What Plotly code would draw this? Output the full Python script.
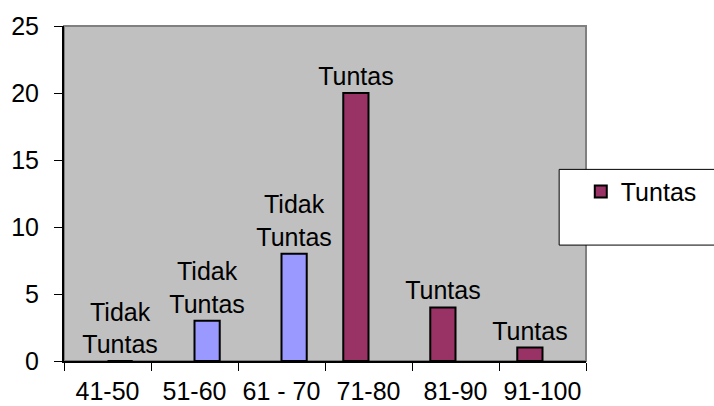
import plotly.graph_objects as go

categories = ["41-50", "51-60", "61 - 70", "71-80", "81-90", "91-100"]
tuntas = [None, None, None, 20, 4, 1]
tidak_tuntas = [0, 3, 8, None, None, None]
tuntas_labels = ["", "", "", "Tuntas", "Tuntas", "Tuntas"]
tidak_labels = ["Tidak<br>Tuntas", "Tidak<br>Tuntas", "Tidak<br>Tuntas", "", "", ""]
y_ticks = [0, 5, 10, 15, 20, 25]

FONT = "Liberation Sans, Arial, sans-serif"
FS = 25

fig = go.Figure()
fig.add_trace(go.Bar(
    name="Tuntas", x=categories, y=tuntas, text=tuntas_labels,
    textposition="outside", cliponaxis=False, constraintext="none",
    textfont=dict(family=FONT, size=FS, color="black"),
    marker=dict(color="#993366", line=dict(color="black", width=2)),
    showlegend=True,
))
fig.add_trace(go.Bar(
    name="Tidak Tuntas", x=categories, y=tidak_tuntas, text=tidak_labels,
    textposition="outside", cliponaxis=False, constraintext="none",
    textfont=dict(family=FONT, size=FS, color="black"),
    marker=dict(color="#9999FF", line=dict(color="black", width=2)),
    showlegend=False,
))

fig.update_layout(
    width=714, height=406,
    margin=dict(l=64, r=126, t=26, b=45),
    paper_bgcolor="white", plot_bgcolor="#C0C0C0",
    barmode="group", bargap=0.42, bargroupgap=0,
    font=dict(family=FONT, size=FS, color="black"),
    showlegend=True,
    legend=dict(x=0.99, xanchor="left", y=0.505, yanchor="middle",
                bgcolor="rgba(0,0,0,0)", borderwidth=0,
                font=dict(family=FONT, size=FS, color="black")),
    uniformtext=dict(mode=False),
)
fig.update_xaxes(
    type="category", showgrid=False, showline=True, linecolor="black", linewidth=2,
    ticks="outside", ticklen=8, tickcolor="black", tickwidth=1, tickson="boundaries",
    tickangle=0, automargin=False,
    ticklabelstandoff=7, tickfont=dict(family=FONT, size=FS, color="black"),
)
fig.update_yaxes(
    range=[0, 25], tickvals=y_ticks, showgrid=False, showline=True,
    linecolor="black", linewidth=2, ticks="outside", ticklen=8, tickcolor="black",
    tickwidth=1, ticklabelstandoff=10, zeroline=False, automargin=False,
    tickfont=dict(family=FONT, size=FS, color="black"),
)
# plot area border (gray) and legend box
fig.add_shape(type="rect", xref="paper", yref="paper", x0=0, x1=1, y0=0, y1=1,
              line=dict(color="#808080", width=2), layer="below")
fig.add_shape(type="rect", xref="paper", yref="paper", x0=0.9486, x1=1.25,
              y0=0.346, y1=0.572, line=dict(color="black", width=1),
              fillcolor="white", layer="above")

fig.write_html("out.html", config={"displayModeBar": False},
               post_script="document.body.style.margin='0px';document.body.style.overflow='hidden';")
